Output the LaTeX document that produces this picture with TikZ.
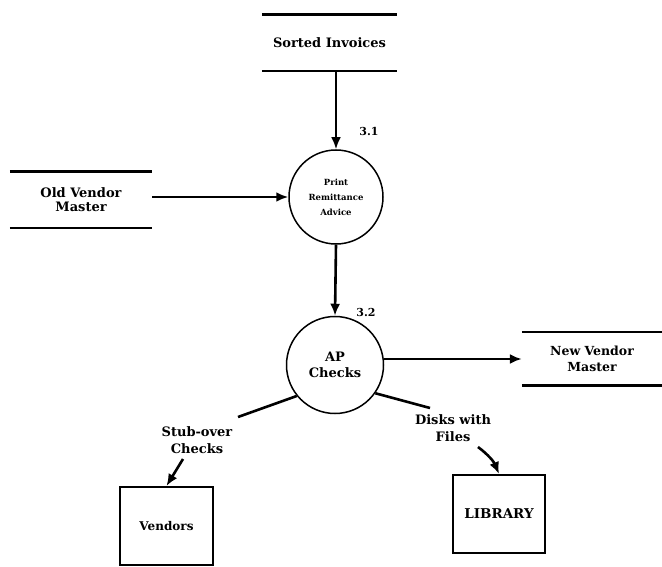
\documentclass[tikz,border=0pt]{standalone}
\usepackage{fontspec}
\setmainfont{DejaVu Serif}
\usetikzlibrary{arrows.meta}
\begin{document}
\begin{tikzpicture}[x=1pt,y=-1pt,
  line/.style={line width=2.6pt},
  flow/.style={line width=2.6pt,-{Latex[length=12pt,width=10pt]}},
  proc/.style={circle,draw,line width=1.5pt,minimum size=96pt,inner sep=0pt,align=center},
  store/.style={inner sep=0pt,align=center},
  ext/.style={draw,line width=2pt,inner sep=0pt,align=center},
  lbl/.style={align=center,font=\bfseries\fontsize{13}{17}\selectfont,inner sep=0pt},
  num/.style={font=\bfseries\fontsize{11}{12}\selectfont,inner sep=0pt}]
\useasboundingbox (0,0) rectangle (662,567);
% stores
\node[store,minimum width=135pt,minimum height=56pt,font=\bfseries\fontsize{13}{15}\selectfont] (si) at (329.5,43) {Sorted Invoices};
\draw[line] (si.north west) -- (si.north east);
\draw[line] (si.south west) -- (si.south east);
\node[store,minimum width=142pt,minimum height=56pt,font=\bfseries\fontsize{13}{14}\selectfont] (ovm) at (81,200) {Old Vendor\\Master};
\draw[line] (ovm.north west) -- (ovm.north east);
\draw[line] (ovm.south west) -- (ovm.south east);
\node[store,minimum width=140pt,minimum height=53pt,font=\bfseries\fontsize{12.5}{16}\selectfont] (nvm) at (592,358.5) {New Vendor\\Master};
\draw[line] (nvm.north west) -- (nvm.north east);
\draw[line] (nvm.south west) -- (nvm.south east);
% processes
\node[proc,minimum size=94pt,font=\bfseries\fontsize{8.5}{15}\selectfont] (p1) at (336,197) {Print\\Remittance\\Advice};
\node[proc,minimum size=97pt,font=\bfseries\fontsize{13}{16}\selectfont] (p2) at (335,365) {AP\\Checks};
\node[num] (n1) at (369,131) {3.1};
\node[num] (n2) at (366,312) {3.2};
% externals
\node[ext,minimum width=93pt,minimum height=78pt,font=\bfseries\fontsize{12}{14}\selectfont] (ven) at (166.5,526) {Vendors};
\node[ext,minimum width=92pt,minimum height=78pt,font=\bfseries\fontsize{13.5}{16}\selectfont] (lib) at (499,514) {LIBRARY};
% labels
\node[lbl] (l1) at (197,440) {Stub-over\\Checks};
\node[lbl] (l2) at (453,428.5) {Disks with\\Files};
\coordinate (a1) at (238,417);
\coordinate (a2) at (183,459);
\coordinate (b1) at (430,408);
\coordinate (b2) at (478,447);
% flows
\draw[flow] (si.south -| p1.north) -- (p1.north);
\draw[flow] (ovm.east |- p1.west) -- (p1.west);
\draw[flow] (p1.south) -- (p2.north);
\draw[flow] (p2.east |- 0,359) -- (nvm.west |- 0,359);
\draw[line] (p2.219) -- (a1);
\draw[flow] (a2) -- (ven.north);
\draw[line] (p2.325) -- (b1);
\draw[flow] (b2) to[bend left=15] (lib.north);
\end{tikzpicture}
\end{document}
